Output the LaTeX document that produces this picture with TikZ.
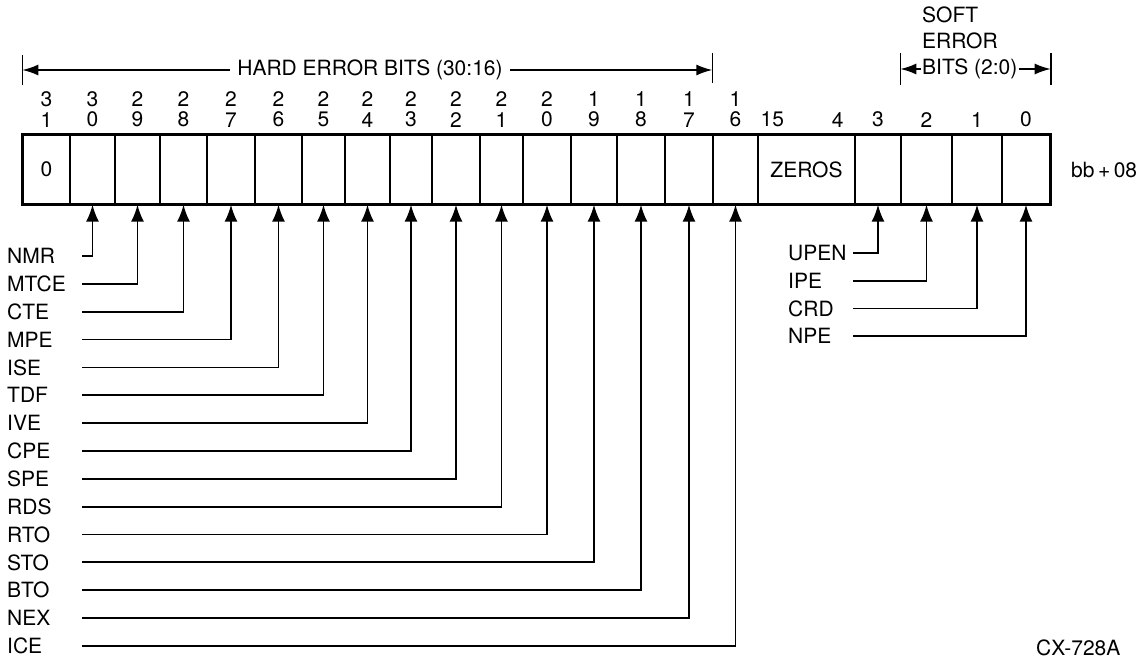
\documentclass[tikz,border=0pt]{standalone}
\usepackage{fontspec}
\setmainfont{TeX Gyre Heros}
\usetikzlibrary{arrows.meta,positioning}

\tikzset{
  cellbox/.style={draw, line width=1.4pt, minimum height=69pt, inner sep=0pt},
  bitnum/.style={font=\fontsize{21}{20.5}\selectfont, align=center, inner sep=0pt},
  lbl/.style={anchor=west, inner sep=0pt, text width=#1, align=left},
  sig/.style={line width=1.8pt, -{Latex[length=17pt,width=13pt]}},
  dimline/.style={line width=1.6pt, -{Latex[length=16pt,width=11pt]}},
  bar/.style={line width=1.6pt},
}

\begin{document}
\begin{tikzpicture}[x=1pt,y=-1pt,font=\fontsize{21}{25}\selectfont]
  \useasboundingbox (0,0) rectangle (1136,658);
  % register cells
  \foreach \b/\l/\r in {31/23/70,30/70/115,29/115/160,28/160/207,27/207/255,
      26/255/302,25/302/345,24/345/390,23/390/432,22/432/480,21/480/523,
      20/523/571,19/571/617,18/617/665,17/665/713,16/713/758,z/758/855,
      3/855/901,2/901/952,1/952/1002,0/1002/1050} {
    \pgfmathsetmacro{\w}{\r-\l}
    \node[cellbox, minimum width=\w pt] (c\b) at ({(\l+\r)/2},169.5) {};
  }
  \draw[line width=2.8pt] (c31.north west) rectangle (c0.south east);
  \node (zero) at (c31) {0};
  \node (zeros) at (cz) {ZEROS};
  \node[anchor=west, inner sep=0pt] (addr) at (1071,170) {bb\,+\,08};

  % bit numbers
  \foreach \b/\tens/\ones in {31/3/1,30/3/0,29/2/9,28/2/8,27/2/7,26/2/6,25/2/5,
      24/2/4,23/2/3,22/2/2,21/2/1,20/2/0,19/1/9,18/1/8,17/1/7,16/1/6}
    \node[bitnum, above=7pt of c\b] (n\b) {\tens\\\ones};
  \node[bitnum, anchor=south] (n15) at ([xshift=15pt,yshift=7pt]cz.north west) {15};
  \node[bitnum, anchor=south] (n4) at ([xshift=-18pt,yshift=7pt]cz.north east) {4};
  \foreach \b in {3,2,1,0}
    \node[bitnum, above=7pt of c\b] (n\b) {\b};

  % hard error field
  \node[inner sep=7pt] (hard) at (370,70) {HARD ERROR BITS (30:16)};
  \coordinate (hardL) at (c31.west |- hard);
  \coordinate (hardR) at (c16.west |- hard);
  \draw[bar] ([yshift=15pt]hardL) -- ([yshift=-15pt]hardL);
  \draw[bar] ([yshift=17pt]hardR) -- ([yshift=-13pt]hardR);
  \draw[dimline] (hard.west) -- (hardL);
  \draw[dimline] (hard.east) -- (hardR);

  % soft error field
  \node[anchor=west, inner sep=0pt] (softbits) at (922,69) {BITS (2:0)};
  \node[above=10pt of softbits.north west, anchor=south west, inner sep=0pt,
        align=left, font=\fontsize{21}{26}\selectfont] (softhead) {SOFT\\ERROR};
  \coordinate (softL) at (c2.west |- softbits);
  \coordinate (softR) at (c0.east |- softbits);
  \draw[bar] ([yshift=16pt]softL) -- ([yshift=-16pt]softL);
  \draw[bar] ([yshift=16pt]softR) -- ([yshift=-16pt]softR);
  \draw[dimline] ([xshift=-1pt]softbits.west) -- (softL);
  \draw[dimline] ([xshift=1pt]softbits.east) -- (softR);

  % hard error signals
  \foreach \b/\name [count=\i from 0] in {30/NMR,29/MTCE,28/CTE,27/MPE,26/ISE,
      25/TDF,24/IVE,23/CPE,22/SPE,21/RDS,20/RTO,19/STO,18/BTO,17/NEX,16/ICE} {
    \node[lbl=75pt] (l\b) at (7,{256+27.85*\i}) {\name};
    \draw[sig] (l\b.east) -| (c\b.south);
  }

  % soft error signals
  \foreach \b/\name [count=\i from 0] in {3/UPEN,2/IPE,1/CRD,0/NPE} {
    \node[lbl=65pt] (l\b) at (788,{253+27.7*\i}) {\name};
    \draw[sig] (l\b.east) -| (c\b.south);
  }

  \node[anchor=south west, inner sep=0pt] (fig) at (1036,656) {CX-728A};
\end{tikzpicture}
\end{document}
